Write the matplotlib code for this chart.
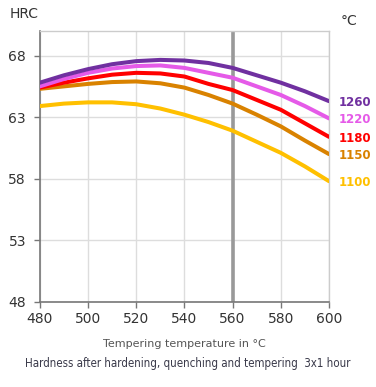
import numpy as np
import matplotlib.pyplot as plt

# tempering temperature (°C)
temp = [480, 490, 500, 510, 520, 530, 540, 550, 560, 570, 580, 590, 600]

# hardness (HRC) per hardening temperature
hrc_1260 = [65.8, 66.4, 66.9, 67.3, 67.55, 67.65, 67.6, 67.4, 67.0, 66.4, 65.8, 65.1, 64.3]
hrc_1220 = [65.5, 66.1, 66.6, 66.95, 67.15, 67.2, 67.0, 66.6, 66.2, 65.5, 64.8, 63.9, 62.9]
hrc_1180 = [65.4, 65.8, 66.15, 66.45, 66.6, 66.55, 66.3, 65.7, 65.2, 64.4, 63.6, 62.5, 61.4]
hrc_1150 = [65.3, 65.5, 65.7, 65.85, 65.9, 65.75, 65.4, 64.8, 64.1, 63.2, 62.25, 61.1, 60.0]
hrc_1100 = [63.9, 64.1, 64.2, 64.2, 64.05, 63.7, 63.2, 62.6, 61.9, 61.0, 60.1, 59.0, 57.8]

series = [("1260", hrc_1260, "#7030A0"),
          ("1220", hrc_1220, "#E55AE8"),
          ("1180", hrc_1180, "#FF0000"),
          ("1150", hrc_1150, "#D98200"),
          ("1100", hrc_1100, "#FFC000")]

x_ticks = [480, 500, 520, 540, 560, 580, 600]
y_ticks = [48, 53, 58, 63, 68]
marked_temp = 560

fig = plt.figure(figsize=(3.76, 3.87), dpi=100)
ax = fig.add_axes([0.106, 0.22, 0.769, 0.70])

ax.set_xlim(480, 600)
ax.set_ylim(48, 70)
ax.set_xticks(x_ticks)
ax.set_yticks(y_ticks)
ax.grid(True, color="#dddddd", lw=1)
ax.set_axisbelow(True)

ax.axvline(marked_temp, color="#999999", lw=2.6, zorder=2)

# draw from bottom curve up so upper curves sit on top
for name, vals, col in series[::-1]:
    ax.plot(temp, vals, color=col, lw=2.9, solid_capstyle="round",
            solid_joinstyle="round", zorder=3)
    ax.annotate(name, xy=(1.0, vals[-1]), xycoords=("axes fraction", "data"),
                xytext=(7, -1), textcoords="offset points", color=col,
                fontsize=8.5, fontweight="bold", va="center", ha="left")

for s in ["left", "bottom"]:
    ax.spines[s].set_color("#777777")
    ax.spines[s].set_linewidth(1.2)
for s in ["top", "right"]:
    ax.spines[s].set_color("#cccccc")
    ax.spines[s].set_linewidth(1)

ax.tick_params(axis="both", colors="#777777", labelcolor="#333333",
               labelsize=10, length=4, width=1)
ax.tick_params(axis="y", pad=6)

ax.set_xlabel("Tempering temperature in °C", fontsize=8, color="#555555",
              labelpad=9)
fig.text(0.025, 0.965, "HRC", fontsize=10, color="#333333", va="center")
fig.text(0.905, 0.945, "°C", fontsize=10, color="#333333", va="center")
fig.text(0.5, 0.062, "Hardness after hardening, quenching and tempering  3x1 hour",
         fontsize=8.3, color="#3a3a4a", ha="center", va="center",
         family="DejaVu Sans", fontstretch="condensed")

fig.savefig("out.png", dpi=100)
